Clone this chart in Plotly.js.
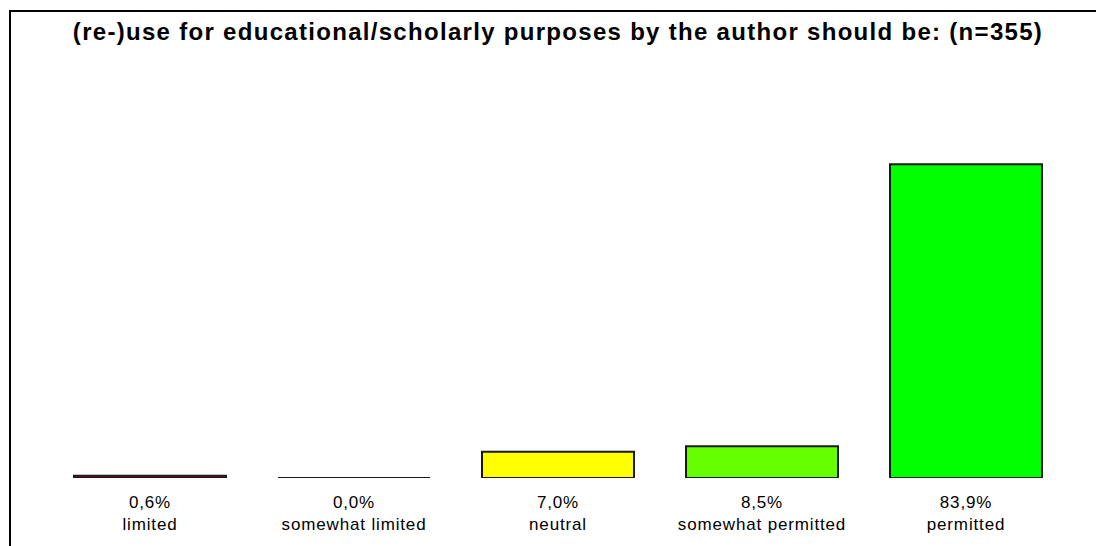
<!DOCTYPE html>
<html>
<head>
<meta charset="utf-8">
<script src="https://cdn.plot.ly/plotly-3.0.1.min.js"></script>
<style>
  html, body { margin: 0; padding: 0; background: #fff; overflow: hidden; }
  #wrap { position: relative; width: 1096px; height: 546px; }
  #chart { position: absolute; left: 0; top: 0; width: 1096px; height: 546px; }
  #frame { position: absolute; left: 9px; top: 10px; width: 1200px; height: 700px;
           border: 2px solid #000; pointer-events: none; }
  #chart .gtitle { letter-spacing: 1.3px; }
  #chart .xtick text { letter-spacing: 0.85px; }
</style>
</head>
<body>
<div id="wrap">
  <div id="frame"></div>
  <div id="chart"></div>
</div>
<script>
const categories = ["limited", "somewhat limited", "neutral", "somewhat permitted", "permitted"];
const values = [0.6, 0.0, 7.0, 8.5, 83.9];
const valueLabels = ["0,6%", "0,0%", "7,0%", "8,5%", "83,9%"];
const barColors = ["#ff0000", "#ffffff", "#ffff00", "#66ff00", "#00ff00"];
const titleText = "(re-)use for educational/scholarly purposes by the author should be: (n=355)";

const idx = categories.map((c, i) => i);
const tickText = categories.map((c, i) => valueLabels[i] + "<br>" + c);
const bargap = 0.255;
const half = (1 - bargap) / 2;

const traces = [{
  type: "bar",
  x: idx,
  y: values,
  marker: { color: barColors, line: { color: "#1a1a1a", width: 2 } },
  width: 1 - bargap,
  hoverinfo: "skip"
}];

// zero-valued bars still show their outline as a flat line
idx.forEach(i => {
  if (values[i] === 0) {
    traces.push({
      type: "scatter", mode: "lines",
      x: [i - half, i + half], y: [values[i], values[i]],
      line: { color: "#1a1a1a", width: 2 },
      cliponaxis: false, hoverinfo: "skip", showlegend: false
    });
  }
});

const layout = {
  width: 1096, height: 546,
  paper_bgcolor: "rgba(0,0,0,0)",
  plot_bgcolor: "rgba(0,0,0,0)",
  showlegend: false,
  margin: { l: 48, r: 28, t: 104, b: 68 },
  title: { text: "<b>" + titleText + "</b>", xref: "paper", x: 0.5, xanchor: "center",
           y: 0.942, yanchor: "middle",
           font: { family: "Arial, 'Liberation Sans', sans-serif", size: 24, color: "#000" } },
  xaxis: {
    range: [-0.5, 4.5], tickmode: "array", tickvals: idx, ticktext: tickText,
    showgrid: false, zeroline: false, showline: false, ticks: "",
    ticklabelstandoff: 12,
    tickfont: { family: "Arial, 'Liberation Sans', sans-serif", size: 17, color: "#000" },
    fixedrange: true
  },
  yaxis: { range: [0, 100], visible: false, fixedrange: true }
};

Plotly.newPlot("chart", traces, layout, { displayModeBar: false, staticPlot: true });
</script>
</body>
</html>
